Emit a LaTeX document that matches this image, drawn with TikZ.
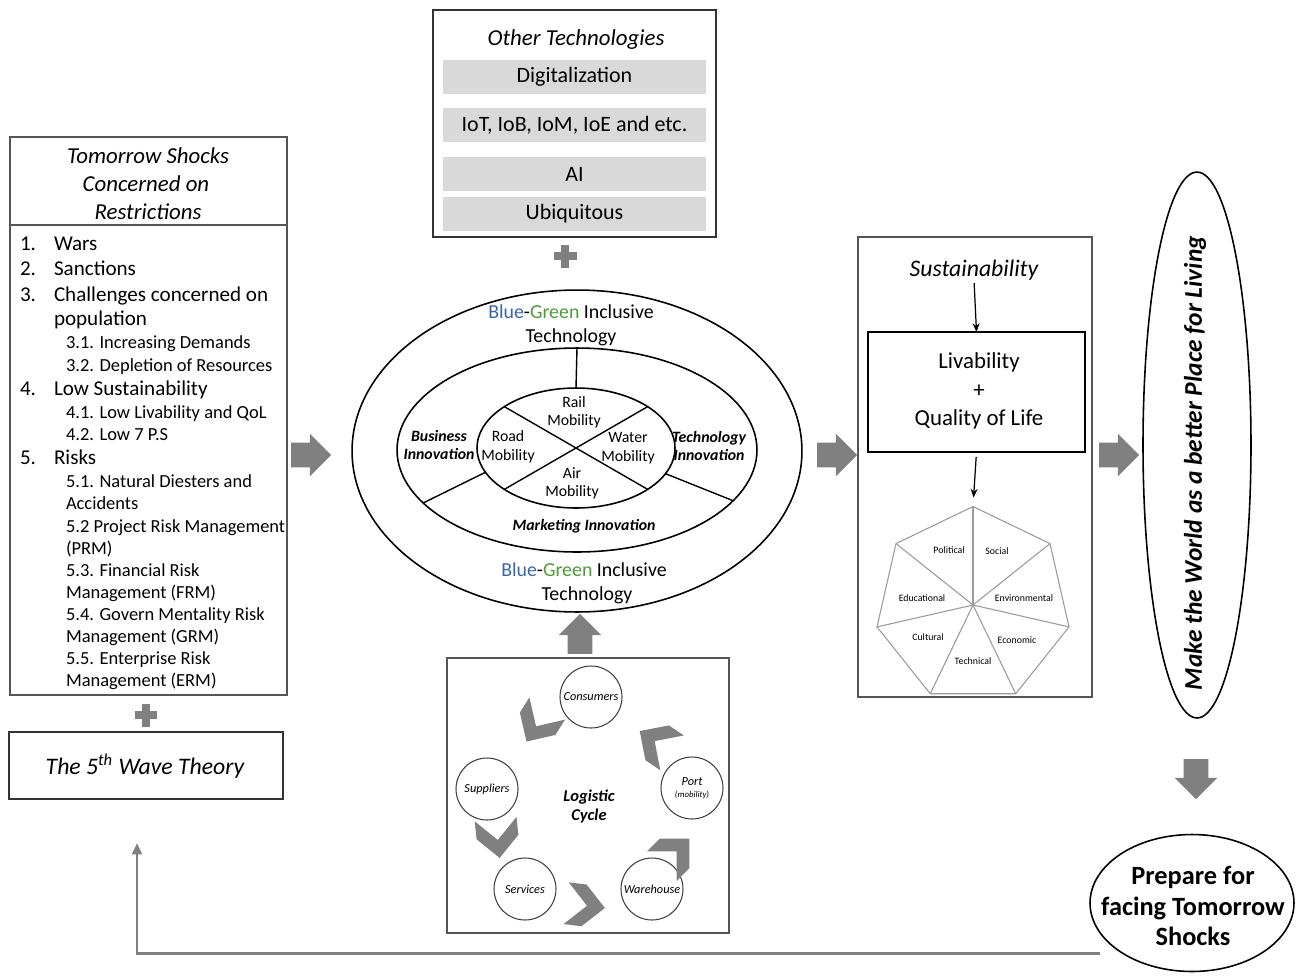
\documentclass[tikz,border=0pt]{standalone}
\usepackage{fontspec}
\setmainfont{Carlito}
\usetikzlibrary{shapes.geometric,shapes.arrows,arrows.meta}
\definecolor{tblue}{HTML}{3A66A8}
\definecolor{tgreen}{HTML}{4E9A3A}
\definecolor{agray}{HTML}{808080}
\definecolor{bgray}{HTML}{D9D9D9}
\definecolor{fgray}{HTML}{555555}
\definecolor{lgray}{HTML}{9A9A9A}
\newcommand{\fsz}[2]{\fontsize{#1}{#2}\selectfont}
\newcommand{\bgtech}{{\color{tblue}Blue}-{\color{tgreen}Green} Inclusive}

\begin{document}
\begin{tikzpicture}[x=0.02cm,y=-0.02cm,
  every node/.style={inner sep=0pt, outer sep=0pt},
  frame/.style={draw=fgray, line width=0.8pt},
  ring/.style={ellipse, draw=black, line width=0.9pt},
  blockarrow/.style={single arrow, fill=agray, inner xsep=0pt, inner ysep=0.24cm, minimum height=0.8cm, single arrow head extend=0.18cm},
  plusbar/.style={fill=agray, minimum width=0.46cm, minimum height=0.15cm},
  chevron/.style={fill=agray},
  techbar/.style={fill=bgray, minimum width=5.26cm, minimum height=0.68cm, font=\fsz{12.5}{15}},
  main/.style={anchor=base west, font=\fsz{12}{14}},
  sub/.style={anchor=base west, font=\fsz{10.5}{12}},
  ttl/.style={font=\fsz{13}{16}\itshape},
  bgt/.style={font=\fsz{11.3}{14}},
  inno/.style={font=\fsz{9}{10.8}\bfseries\itshape, align=center},
  mob/.style={font=\fsz{9}{11}, align=center},
  cyc/.style={circle, draw=black!75, line width=0.6pt, minimum size=1.24cm},
  cyclbl/.style={font=\fsz{7}{8}\itshape, align=center},
  hlbl/.style={font=\fsz{5.6}{6.5}},
  thinarrow/.style={draw=black, line width=0.7pt, -{Stealth[length=5pt,width=4pt]}},
]
\useasboundingbox (0,0) rectangle (1296,975);
\fill[white] (0,0) rectangle (1296,975);

% ---------- left column: shocks list ----------
\node[frame, minimum width=5.54cm, minimum height=11.16cm] (shocks) at (148.5,416) {};
\coordinate (divy) at (0,225);
\draw[fgray, line width=0.8pt] (shocks.west |- divy) -- (shocks.east |- divy);
\node[ttl] (shT1) at (148,156) {Tomorrow Shocks};
\node[ttl] (shT2) at (146,184) {Concerned on};
\node[ttl] (shT3) at (148,212) {Restrictions};

\node[main] (n1) at (20,250) {1.};
\node[main] (i1) at (54,250) {Wars};
\node[main] (n2) at (20,275) {2.};
\node[main] (i2) at (54,275) {Sanctions};
\node[main] (n3) at (20,301) {3.};
\node[main] (i3) at (54,301) {Challenges concerned on};
\node[main] (i3b) at (54,325) {population};
\node[sub] (i31) at (66,348) {3.1. Increasing Demands};
\node[sub] (i32) at (66,371) {3.2. Depletion of Resources};
\node[main] (n4) at (20,395) {4.};
\node[main] (i4) at (54,395) {Low Sustainability};
\node[sub] (i41) at (66,418) {4.1. Low Livability and QoL};
\node[sub] (i42) at (66,440) {4.2. Low 7 P.S};
\node[main] (n5) at (20,464) {5.};
\node[main] (i5) at (54,464) {Risks};
\node[sub] (i51) at (66,487) {5.1. Natural Diesters and};
\node[sub] (i51b) at (66,509) {Accidents};
\node[sub] (i52) at (66,532) {5.2 Project Risk Management};
\node[sub] (i52b) at (66,554) {(PRM)};
\node[sub] (i53) at (66,576) {5.3. Financial Risk};
\node[sub] (i53b) at (66,598) {Management (FRM)};
\node[sub] (i54) at (66,620) {5.4. Govern Mentality Risk};
\node[sub] (i54b) at (66,642) {Management (GRM)};
\node[sub] (i55) at (66,664) {5.5. Enterprise Risk};
\node[sub] (i55b) at (66,686) {Management (ERM)};

% plus sign and the wave theory box
\node[plusbar] (plusLh) at (146,715) {};
\node[plusbar, rotate=90] (plusLv) at (146,715) {};
\node[frame, draw=black!80, line width=1pt, minimum width=5.48cm, minimum height=1.34cm] (wave) at (146,765.5) {};
\node[font=\fsz{13.5}{16}\itshape] (waveT) at (145,766) {The 5\textsuperscript{th} Wave Theory};

% ---------- other technologies ----------
\node[frame, draw=black!80, minimum width=5.66cm, minimum height=4.54cm] (other) at (574.5,123.5) {};
\node[ttl] (otherT) at (576,40) {Other Technologies};
\node[techbar] (digi) at (574.5,77) {Digitalization};
\node[techbar] (iot) at (574.5,125) {IoT, IoB, IoM, IoE and etc.};
\node[techbar] (ai) at (574.5,174) {AI};
\node[techbar] (ubi) at (574.5,214) {Ubiquitous};
\node[plusbar] (plusTh) at (565,256) {};
\node[plusbar, rotate=90] (plusTv) at (565,256) {};

% ---------- central rings ----------
\node[ring, minimum width=9cm, minimum height=6.44cm] (outer) at (577,451) {};
\node[ring, minimum width=7.2cm, minimum height=4.08cm] (mid) at (577,450) {};
\node[ring, minimum width=3.96cm, minimum height=2.4cm] (inner) at (576,448) {};
\draw[line width=0.8pt] (inner.north) -- (mid.north);
\draw[line width=0.8pt] (inner.195) -- (mid.199);
\draw[line width=0.8pt] (inner.-16) -- (mid.-18);
\draw[line width=0.8pt] (inner.150) -- (inner.-30);
\draw[line width=0.8pt] (inner.30) -- (inner.210);

\node[bgt] (bgTop1) at (571,312) {\bgtech};
\node[bgt] (bgTop2) at (571,337) {Technology};
\node[bgt] (bgBot1) at (584,570) {\bgtech};
\node[bgt] (bgBot2) at (587,595) {Technology};

\node[inno] (bizI) at (439,445) {Business\\Innovation};
\node[inno, font=\fsz{9}{9.7}\bfseries\itshape] (techI) at (709,446) {Technology\\Innovation};
\node[inno] (mktI) at (584,526) {Marketing Innovation};

\node[mob, font=\fsz{9}{10.2}] (rail) at (574,412) {Rail\\Mobility};
\node[mob] (road) at (508,447) {Road\\Mobility};
\node[mob] (water) at (628,448) {Water\\Mobility};
\node[mob, font=\fsz{9}{10.2}] (air) at (572,483) {Air\\Mobility};

% ---------- logistic cycle ----------
\node[frame, minimum width=5.64cm, minimum height=5.5cm] (logi) at (588,795.5) {};
\node[cyc] (cons) at (591,697) {};
\node[cyc] (port) at (692,788) {};
\node[cyc] (ware) at (652,889) {};
\node[cyc] (serv) at (525,889) {};
\node[cyc] (supp) at (487,789) {};
\node[cyclbl] (consT) at (cons) {Consumers};
\node[cyclbl] (portT) at (port) {Port\\[-1pt]{\fsz{5}{6}(mobility)}};
\node[cyclbl] (wareT) at (ware) {Warehouse};
\node[cyclbl] (servT) at (serv) {Services};
\node[cyclbl] (suppT) at (supp) {Suppliers};
\node[font=\fsz{9.4}{10.8}\bfseries\itshape, align=center] (logiT) at (589,806) {Logistic\\Cycle};
\foreach \cx/\cy/\ang in {535/728/238, 653/740/146, 498/842/-84, 589/906/-7, 678/850/45}
  \fill[chevron, shift={(\cx,\cy)}, rotate=\ang]
    (16,0) -- (-5,21) -- (-23,21) -- (-2,0) -- (-23,-21) -- (-5,-21) -- cycle;

% ---------- sustainability ----------
\node[frame, minimum width=4.68cm, minimum height=9.2cm] (sust) at (975,467) {};
\node[font=\fsz{13.5}{16}\itshape] (sustT) at (974,270) {Sustainability};
\node[draw=black, line width=0.8pt, minimum width=4.34cm, minimum height=2.4cm] (liv) at (976.5,392) {};
\node[font=\fsz{13}{16}, align=center] (livT) at (979,391) {Livability\\+\\Quality of Life};
\draw[thinarrow, shorten <=0.06cm] (sustT.south) -- (liv.north);
\node[regular polygon, regular polygon sides=7, minimum size=3.94cm, draw=lgray, line width=0.6pt] (hept) at (973,605) {};
\foreach \c in {1,...,7}
  \draw[lgray, line width=0.6pt] (hept.center) -- (hept.corner \c);
\draw[thinarrow, shorten <=0.1cm, shorten >=0.18cm] (liv.south) -- (hept.corner 1);
\node[hlbl] (hPol) at (949,550) {Political};
\node[hlbl] (hSoc) at (997,551) {Social};
\node[hlbl] (hEdu) at (922,598) {Educational};
\node[hlbl] (hEnv) at (1024,598) {Environmental};
\node[hlbl] (hCul) at (928,637) {Cultural};
\node[hlbl] (hEco) at (1017,640) {Economic};
\node[hlbl] (hTec) at (973,661) {Technical};

% ---------- goal and outcome ----------
\node[ring, minimum width=2.16cm, minimum height=10.92cm] (world) at (1197,445) {};
\node[rotate=90, font=\fsz{14.5}{17}\bfseries\itshape] (worldT) at (1195,463) {Make the World as a better Place for Living};
\node[ring, minimum width=4.08cm, minimum height=2.74cm] (prep) at (1192,903) {};
\node[font=\fsz{15}{17.6}\bfseries, align=center] (prepT) at (1193,906) {Prepare for\\facing Tomorrow\\Shocks};

% ---------- flow arrows ----------
\node[blockarrow] (a1) at (305,455) {};
\node[blockarrow] (a2) at (831,455) {};
\node[blockarrow] (a3) at (1113,455) {};
\node[blockarrow, rotate=90] (a4) at (580,640) {};
\node[blockarrow, rotate=-90] (a5) at (1196,773) {};

% feedback loop back to the theory
\coordinate (fbS) at (1100,953);
\coordinate (fbE) at (137,843);
\draw[agray, line width=1.7pt, -{Triangle[width=5.5pt,length=6.5pt]}] (fbS) -| (fbE);
\end{tikzpicture}
\end{document}
